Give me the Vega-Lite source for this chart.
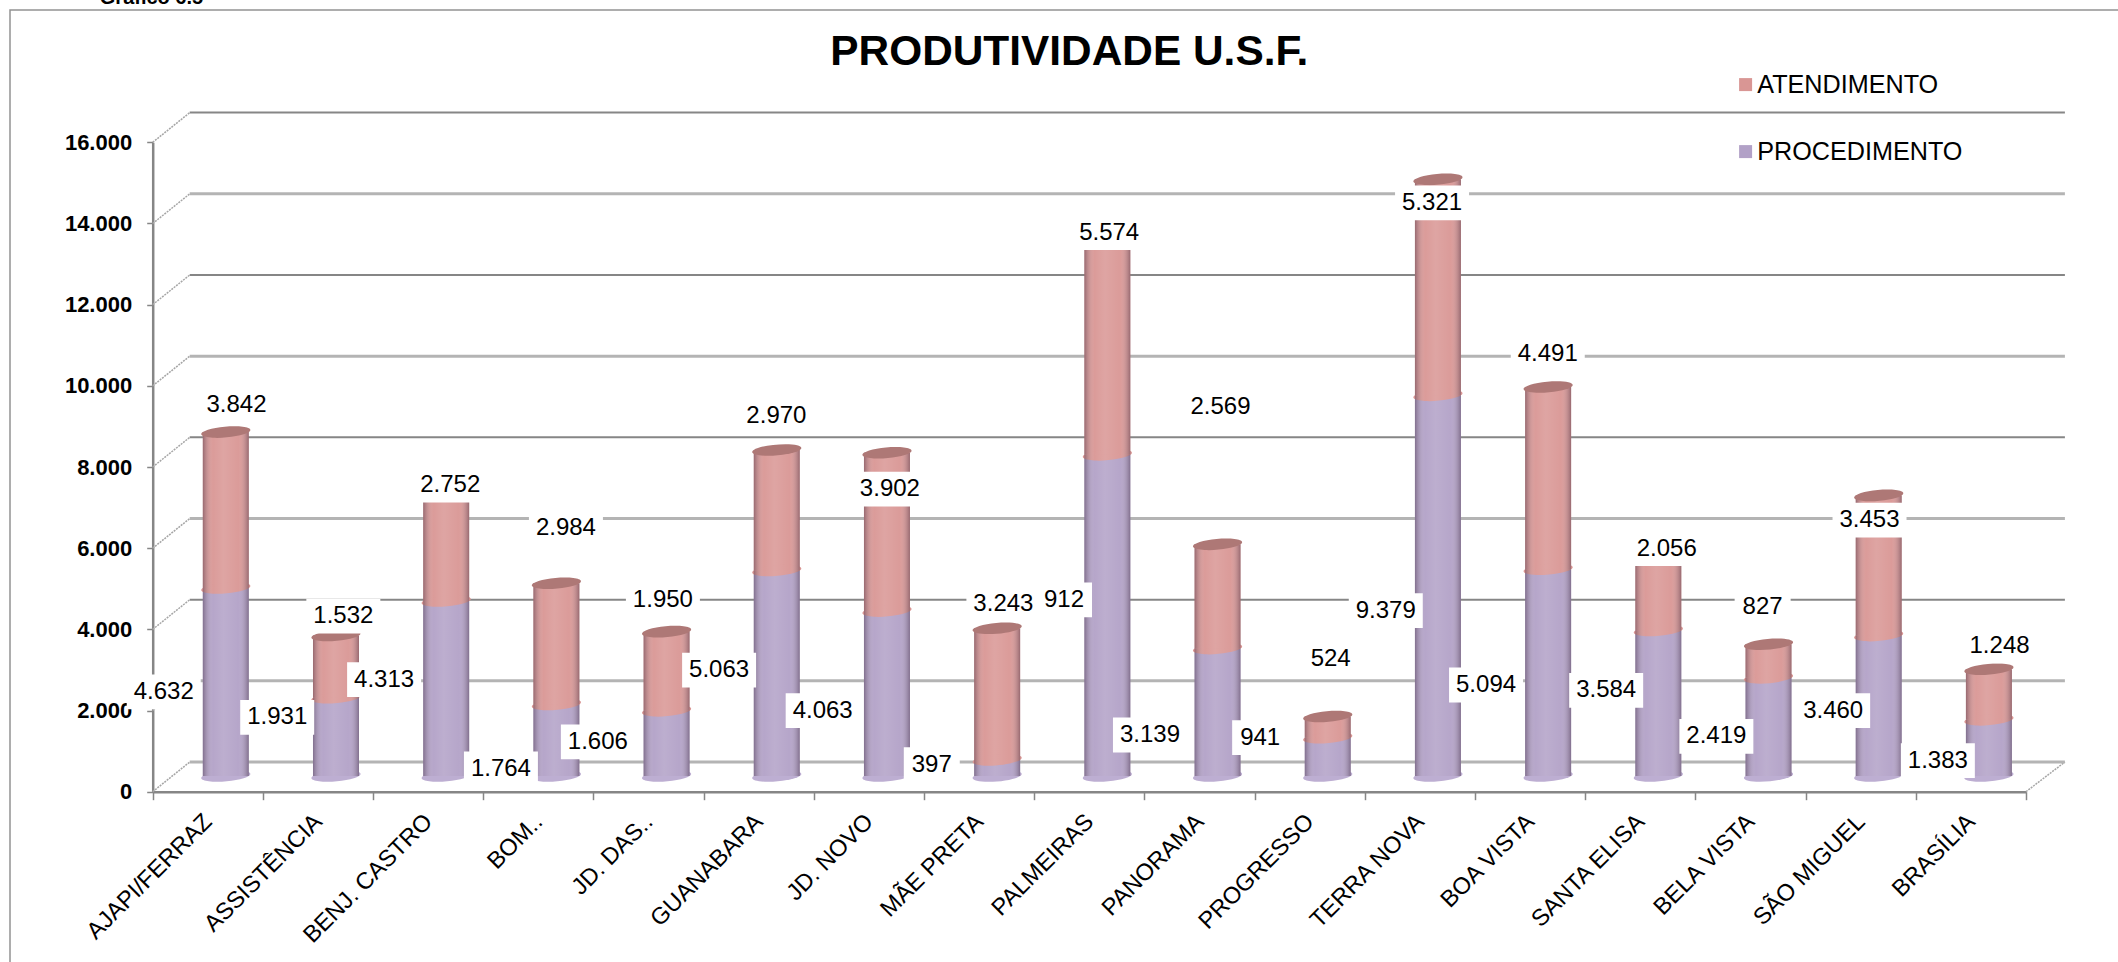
{
"$schema":"https://vega.github.io/schema/vega-lite/v6.json",
"width":2112,"height":956,"autosize":{"type":"none"},"padding":{"left":10,"top":10,"right":0,"bottom":0},
"background":"white",
"view":{"stroke":"#929292","strokeWidth":1.5,"fill":"white"},
"datasets":{
"marcas":[
{"marca":0,"unidade":"AJAPI/FERRAZ","fim":"BRASÍLIA"},{"marca":2000,"unidade":"AJAPI/FERRAZ","fim":"BRASÍLIA"},{"marca":4000,"unidade":"AJAPI/FERRAZ","fim":"BRASÍLIA"},{"marca":6000,"unidade":"AJAPI/FERRAZ","fim":"BRASÍLIA"},{"marca":8000,"unidade":"AJAPI/FERRAZ","fim":"BRASÍLIA"},{"marca":10000,"unidade":"AJAPI/FERRAZ","fim":"BRASÍLIA"},{"marca":12000,"unidade":"AJAPI/FERRAZ","fim":"BRASÍLIA"},{"marca":14000,"unidade":"AJAPI/FERRAZ","fim":"BRASÍLIA"},{"marca":16000,"unidade":"AJAPI/FERRAZ","fim":"BRASÍLIA"}
]},
"data":{"values":[
{"unidade":"AJAPI/FERRAZ","serie":"PROCEDIMENTO","valor":4632,"rotulo":"4.632","rotulo_x":-0.40,"rotulo_y":2498},
{"unidade":"AJAPI/FERRAZ","serie":"ATENDIMENTO","valor":3842,"rotulo":"3.842","rotulo_x":0.26,"rotulo_y":9554},
{"unidade":"ASSISTÊNCIA","serie":"PROCEDIMENTO","valor":1931,"rotulo":"1.931","rotulo_x":-0.37,"rotulo_y":1867},
{"unidade":"ASSISTÊNCIA","serie":"ATENDIMENTO","valor":1532,"rotulo":"1.532","rotulo_x":0.23,"rotulo_y":4363},
{"unidade":"BENJ. CASTRO","serie":"PROCEDIMENTO","valor":4313,"rotulo":"4.313","rotulo_x":-0.40,"rotulo_y":2799},
{"unidade":"BENJ. CASTRO","serie":"ATENDIMENTO","valor":2752,"rotulo":"2.752","rotulo_x":0.20,"rotulo_y":7591},
{"unidade":"BOM..","serie":"PROCEDIMENTO","valor":1764,"rotulo":"1.764","rotulo_x":-0.34,"rotulo_y":601},
{"unidade":"BOM..","serie":"ATENDIMENTO","valor":2984,"rotulo":"2.984","rotulo_x":0.25,"rotulo_y":6526},
{"unidade":"JD. DAS..","serie":"PROCEDIMENTO","valor":1606,"rotulo":"1.606","rotulo_x":-0.46,"rotulo_y":1266},
{"unidade":"JD. DAS..","serie":"ATENDIMENTO","valor":1950,"rotulo":"1.950","rotulo_x":0.13,"rotulo_y":4762},
{"unidade":"GUANABARA","serie":"PROCEDIMENTO","valor":5063,"rotulo":"5.063","rotulo_x":-0.36,"rotulo_y":3033},
{"unidade":"GUANABARA","serie":"ATENDIMENTO","valor":2970,"rotulo":"2.970","rotulo_x":0.16,"rotulo_y":9288},
{"unidade":"JD. NOVO","serie":"PROCEDIMENTO","valor":4063,"rotulo":"4.063","rotulo_x":-0.42,"rotulo_y":2033},
{"unidade":"JD. NOVO","serie":"ATENDIMENTO","valor":3902,"rotulo":"3.902","rotulo_x":0.19,"rotulo_y":7492},
{"unidade":"MÃE PRETA","serie":"PROCEDIMENTO","valor":397,"rotulo":"397","rotulo_x":-0.43,"rotulo_y":702},
{"unidade":"MÃE PRETA","serie":"ATENDIMENTO","valor":3243,"rotulo":"3.243","rotulo_x":0.22,"rotulo_y":4661},
{"unidade":"PALMEIRAS","serie":"PROCEDIMENTO","valor":7912,"rotulo":"912","rotulo_x":-0.23,"rotulo_y":4762},
{"unidade":"PALMEIRAS","serie":"ATENDIMENTO","valor":5574,"rotulo":"5.574","rotulo_x":0.18,"rotulo_y":13814},
{"unidade":"PANORAMA","serie":"PROCEDIMENTO","valor":3139,"rotulo":"3.139","rotulo_x":-0.45,"rotulo_y":1434},
{"unidade":"PANORAMA","serie":"ATENDIMENTO","valor":2569,"rotulo":"2.569","rotulo_x":0.19,"rotulo_y":9522},
{"unidade":"PROGRESSO","serie":"PROCEDIMENTO","valor":941,"rotulo":"941","rotulo_x":-0.45,"rotulo_y":1367},
{"unidade":"PROGRESSO","serie":"ATENDIMENTO","valor":524,"rotulo":"524","rotulo_x":0.19,"rotulo_y":3299},
{"unidade":"TERRA NOVA","serie":"PROCEDIMENTO","valor":9379,"rotulo":"9.379","rotulo_x":-0.31,"rotulo_y":4496},
{"unidade":"TERRA NOVA","serie":"ATENDIMENTO","valor":5321,"rotulo":"5.321","rotulo_x":0.11,"rotulo_y":14546},
{"unidade":"BOA VISTA","serie":"PROCEDIMENTO","valor":5094,"rotulo":"5.094","rotulo_x":-0.40,"rotulo_y":2666},
{"unidade":"BOA VISTA","serie":"ATENDIMENTO","valor":4491,"rotulo":"4.491","rotulo_x":0.16,"rotulo_y":10818},
{"unidade":"SANTA ELISA","serie":"PROCEDIMENTO","valor":3584,"rotulo":"3.584","rotulo_x":-0.31,"rotulo_y":2533},
{"unidade":"SANTA ELISA","serie":"ATENDIMENTO","valor":2056,"rotulo":"2.056","rotulo_x":0.24,"rotulo_y":6028},
{"unidade":"BELA VISTA","serie":"PROCEDIMENTO","valor":2419,"rotulo":"2.419","rotulo_x":-0.31,"rotulo_y":1402},
{"unidade":"BELA VISTA","serie":"ATENDIMENTO","valor":827,"rotulo":"827","rotulo_x":0.11,"rotulo_y":4595},
{"unidade":"SÃO MIGUEL","serie":"PROCEDIMENTO","valor":3460,"rotulo":"3.460","rotulo_x":-0.25,"rotulo_y":2033},
{"unidade":"SÃO MIGUEL","serie":"ATENDIMENTO","valor":3453,"rotulo":"3.453","rotulo_x":0.08,"rotulo_y":6726},
{"unidade":"BRASÍLIA","serie":"PROCEDIMENTO","valor":1383,"rotulo":"1.383","rotulo_x":-0.30,"rotulo_y":803},
{"unidade":"BRASÍLIA","serie":"ATENDIMENTO","valor":1248,"rotulo":"1.248","rotulo_x":0.26,"rotulo_y":3631}
]},
"transform":[{"stack":"valor","groupby":["unidade"],"sort":[{"field":"serie","order":"descending"}],"as":["base","topo"]}],
"encoding":{
"x":{"field":"unidade","type":"nominal","sort":null,"title":null,
"scale":{"domain":["AJAPI/FERRAZ","ASSISTÊNCIA","BENJ. CASTRO","BOM..","JD. DAS..","GUANABARA","JD. NOVO","MÃE PRETA","PALMEIRAS","PANORAMA","PROGRESSO","TERRA NOVA","BOA VISTA","SANTA ELISA","BELA VISTA","SÃO MIGUEL","BRASÍLIA"],"range":[142.7,2016],"paddingInner":0,"paddingOuter":0},
"axis":{"orient":"bottom","offset":-174.3,"tickBand":"extent","tickSize":8,"tickColor":"#868686","tickWidth":1.5,"domainColor":"#868686","domainWidth":2.5,"labelAngle":-45,"labelAlign":"right","labelBaseline":"middle","labelFont":"Liberation Sans","labelFontSize":23.5,"labelColor":"#000000","labelPadding":18,"labelOverlap":false,"labelLimit":400,"grid":false}},
"y":{"field":"topo","type":"quantitative","title":null,
"scale":{"domain":[0,16000],"range":[781.7,132.3],"nice":false,"zero":false},
"axis":{"orient":"left","offset":-142.7,"values":[0,2000,4000,6000,8000,10000,12000,14000,16000],"labelExpr":"replace(format(datum.value,','),',','.')","tickSize":6,"tickColor":"#868686","tickWidth":1.5,"domainColor":"#868686","domainWidth":2.5,"labelFont":"Liberation Sans","labelFontWeight":"bold","labelFontSize":22,"labelColor":"#000000","labelPadding":15,"grid":false}}
},
"layer":[
{"data":{"name":"marcas"},"mark":{"type":"rule","x2Offset":-18,"y2Offset":-29.7,"strokeDash":[2,1]},
"encoding":{
"x":{"field":"unidade","type":"nominal","sort":null,"bandPosition":0,"title":null,"scale":{"domain":["AJAPI/FERRAZ","ASSISTÊNCIA","BENJ. CASTRO","BOM..","JD. DAS..","GUANABARA","JD. NOVO","MÃE PRETA","PALMEIRAS","PANORAMA","PROGRESSO","TERRA NOVA","BOA VISTA","SANTA ELISA","BELA VISTA","SÃO MIGUEL","BRASÍLIA"],"range":[142.7,2016],"paddingInner":0,"paddingOuter":0}},
"x2":{"field":"unidade"},
"y":{"field":"marca","type":"quantitative","title":null,"scale":{"domain":[0,16000],"range":[781.7,132.3],"nice":false,"zero":false}},
"y2":{"field":"marca"},
"color":{"value":"#a6a6a6"},"size":{"value":1.5}}},
{"data":{"name":"marcas"},"transform":[{"filter":"datum.marca===0"}],"mark":{"type":"rule","xOffset":0,"x2Offset":94,"yOffset":0,"y2Offset":-29.7,"strokeDash":[2,1]},
"encoding":{
"x":{"field":"fim","type":"nominal","sort":null,"bandPosition":1,"title":null,"scale":{"domain":["AJAPI/FERRAZ","ASSISTÊNCIA","BENJ. CASTRO","BOM..","JD. DAS..","GUANABARA","JD. NOVO","MÃE PRETA","PALMEIRAS","PANORAMA","PROGRESSO","TERRA NOVA","BOA VISTA","SANTA ELISA","BELA VISTA","SÃO MIGUEL","BRASÍLIA"],"range":[142.7,2016],"paddingInner":0,"paddingOuter":0}},
"x2":{"field":"fim"},
"y":{"field":"marca","type":"quantitative","title":null,"scale":{"domain":[0,16000],"range":[781.7,132.3],"nice":false,"zero":false}},
"y2":{"field":"marca"},
"color":{"value":"#a6a6a6"},"size":{"value":1.5}}},
{"data":{"name":"marcas"},"mark":{"type":"rule","xOffset":37,"x2Offset":94,"yOffset":-29.7,"y2Offset":-29.7},
"encoding":{
"x":{"field":"unidade","type":"nominal","sort":null,"bandPosition":0,"title":null,"scale":{"domain":["AJAPI/FERRAZ","ASSISTÊNCIA","BENJ. CASTRO","BOM..","JD. DAS..","GUANABARA","JD. NOVO","MÃE PRETA","PALMEIRAS","PANORAMA","PROGRESSO","TERRA NOVA","BOA VISTA","SANTA ELISA","BELA VISTA","SÃO MIGUEL","BRASÍLIA"],"range":[142.7,2016],"paddingInner":0,"paddingOuter":0}},
"x2":{"field":"fim"},
"y":{"field":"marca","type":"quantitative","title":null,"scale":{"domain":[0,16000],"range":[781.7,132.3],"nice":false,"zero":false}},
"y2":{"field":"marca"},
"color":{"condition":{"test":"datum.marca>0 && datum.marca%4000===0","value":"#868686"},"value":"#b4b4b4"},
"size":{"condition":{"test":"datum.marca>0 && datum.marca%4000===0","value":2},"value":3}}},
{"transform":[{"filter":"datum.serie==='PROCEDIMENTO'"}],
"mark":{"type":"point","filled":true,"opacity":1,"strokeWidth":0,"fill":"#bdaed2","xOffset":18,"yOffset":-15.7,"size":2116,"shape":"M -1 0 A 1 0.22 -5 1 1 1 0 A 1 0.22 -5 1 1 -1 0 Z"},
"encoding":{"y":{"field":"base","type":"quantitative","title":null,"scale":{"domain":[0,16000],"range":[781.7,132.3],"nice":false,"zero":false}}}},
{"mark":{"type":"bar","width":46,"xOffset":18,"x2Offset":18,"yOffset":-15.7,"y2Offset":-15.7},
"encoding":{"y2":{"field":"base"},
"color":{"field":"serie","type":"nominal","title":null,"scale":{"domain":["ATENDIMENTO","PROCEDIMENTO"],"range":["#d99694","#b2a1c7"]},
"legend":{"orient":"none","legendX":1723,"legendY":62,"title":null,"symbolType":"square","symbolSize":169,"symbolStrokeWidth":0,"labelFont":"Liberation Sans","labelFontSize":25.2,"labelColor":"#000000","labelOffset":-1,"labelLimit":400,"rowPadding":41}}}},
{"transform":[{"filter":"datum.serie==='ATENDIMENTO'"}],
"mark":{"type":"point","filled":true,"opacity":1,"strokeWidth":0,"fill":"#d99694","xOffset":18,"yOffset":-15.7,"size":2116,"shape":"M -1 0 A 1 0.22 -5 1 1 1 0 A 1 0.22 -5 1 1 -1 0 Z"},
"encoding":{"y":{"field":"base","type":"quantitative","title":null,"scale":{"domain":[0,16000],"range":[781.7,132.3],"nice":false,"zero":false}}}},
{"mark":{"type":"bar","width":46,"xOffset":18,"x2Offset":18,"yOffset":-15.7,"y2Offset":-15.7,
"fill":{"gradient":"linear","x1":0,"x2":1,"y1":0,"y2":0,"stops":[{"offset":0,"color":"rgba(60,40,60,0.42)"},{"offset":0.22,"color":"rgba(255,255,255,0.05)"},{"offset":0.45,"color":"rgba(255,255,255,0.14)"},{"offset":0.78,"color":"rgba(255,255,255,0.05)"},{"offset":1,"color":"rgba(60,40,60,0.42)"}]}},
"encoding":{"y2":{"field":"base"}}},
{"transform":[{"filter":"datum.serie==='ATENDIMENTO'"}],
"mark":{"type":"point","filled":true,"opacity":1,"strokeWidth":0,"fill":"#ae7876","xOffset":18,"yOffset":-15.7,"size":2116,"shape":"M -1 0 A 1 0.22 -5 1 1 1 0 A 1 0.22 -5 1 1 -1 0 Z"},
"encoding":{}},
{"transform":[{"filter":"length(datum.rotulo)===5"}],
"mark":{"type":"point","filled":true,"opacity":1,"strokeWidth":0,"fill":"#ffffff","size":5476,"yOffset":1.5,"shape":"M -1 -0.47 L 1 -0.47 L 1 0.47 L -1 0.47 Z"},
"encoding":{"xOffset":{"field":"rotulo_x","type":"quantitative","scale":{"domain":[-1,1],"range":[-55.1,165.3]}},
"y":{"field":"rotulo_y","type":"quantitative","title":null,"scale":{"domain":[0,16000],"range":[781.7,132.3],"nice":false,"zero":false}}}},
{"transform":[{"filter":"length(datum.rotulo)===3"}],
"mark":{"type":"point","filled":true,"opacity":1,"strokeWidth":0,"fill":"#ffffff","size":3136,"yOffset":1.5,"shape":"M -1 -0.62 L 1 -0.62 L 1 0.62 L -1 0.62 Z"},
"encoding":{"xOffset":{"field":"rotulo_x","type":"quantitative","scale":{"domain":[-1,1],"range":[-55.1,165.3]}},
"y":{"field":"rotulo_y","type":"quantitative","title":null,"scale":{"domain":[0,16000],"range":[781.7,132.3],"nice":false,"zero":false}}}},
{"mark":{"type":"text","font":"Liberation Sans","fontSize":24,"color":"#000000","align":"center","baseline":"middle","dy":1.5},
"encoding":{"xOffset":{"field":"rotulo_x","type":"quantitative","scale":{"domain":[-1,1],"range":[-55.1,165.3]}},
"y":{"field":"rotulo_y","type":"quantitative","title":null,"scale":{"domain":[0,16000],"range":[781.7,132.3],"nice":false,"zero":false}},
"text":{"field":"rotulo"}}},
{"data":{"values":[{"unidade":"AJAPI/FERRAZ","nota":"Gráfico 6.5","marca":16000}]},
"mark":{"type":"text","font":"Liberation Sans","fontWeight":"bold","fontSize":20,"color":"#000000","align":"left","baseline":"alphabetic","xOffset":-108,"yOffset":-138.8},
"encoding":{"y":{"field":"marca","type":"quantitative","title":null,"scale":{"domain":[0,16000],"range":[781.7,132.3],"nice":false,"zero":false}},
"text":{"field":"nota"}}},
{"data":{"values":[{"unidade":"PALMEIRAS","nota":"PRODUTIVIDADE U.S.F.","marca":16000}]},
"mark":{"type":"text","font":"Liberation Sans","fontWeight":"bold","fontSize":42.4,"color":"#000000","align":"center","baseline":"alphabetic","xOffset":-20,"yOffset":-77},
"encoding":{"y":{"field":"marca","type":"quantitative","title":null,"scale":{"domain":[0,16000],"range":[781.7,132.3],"nice":false,"zero":false}},
"text":{"field":"nota"}}}
]
}
